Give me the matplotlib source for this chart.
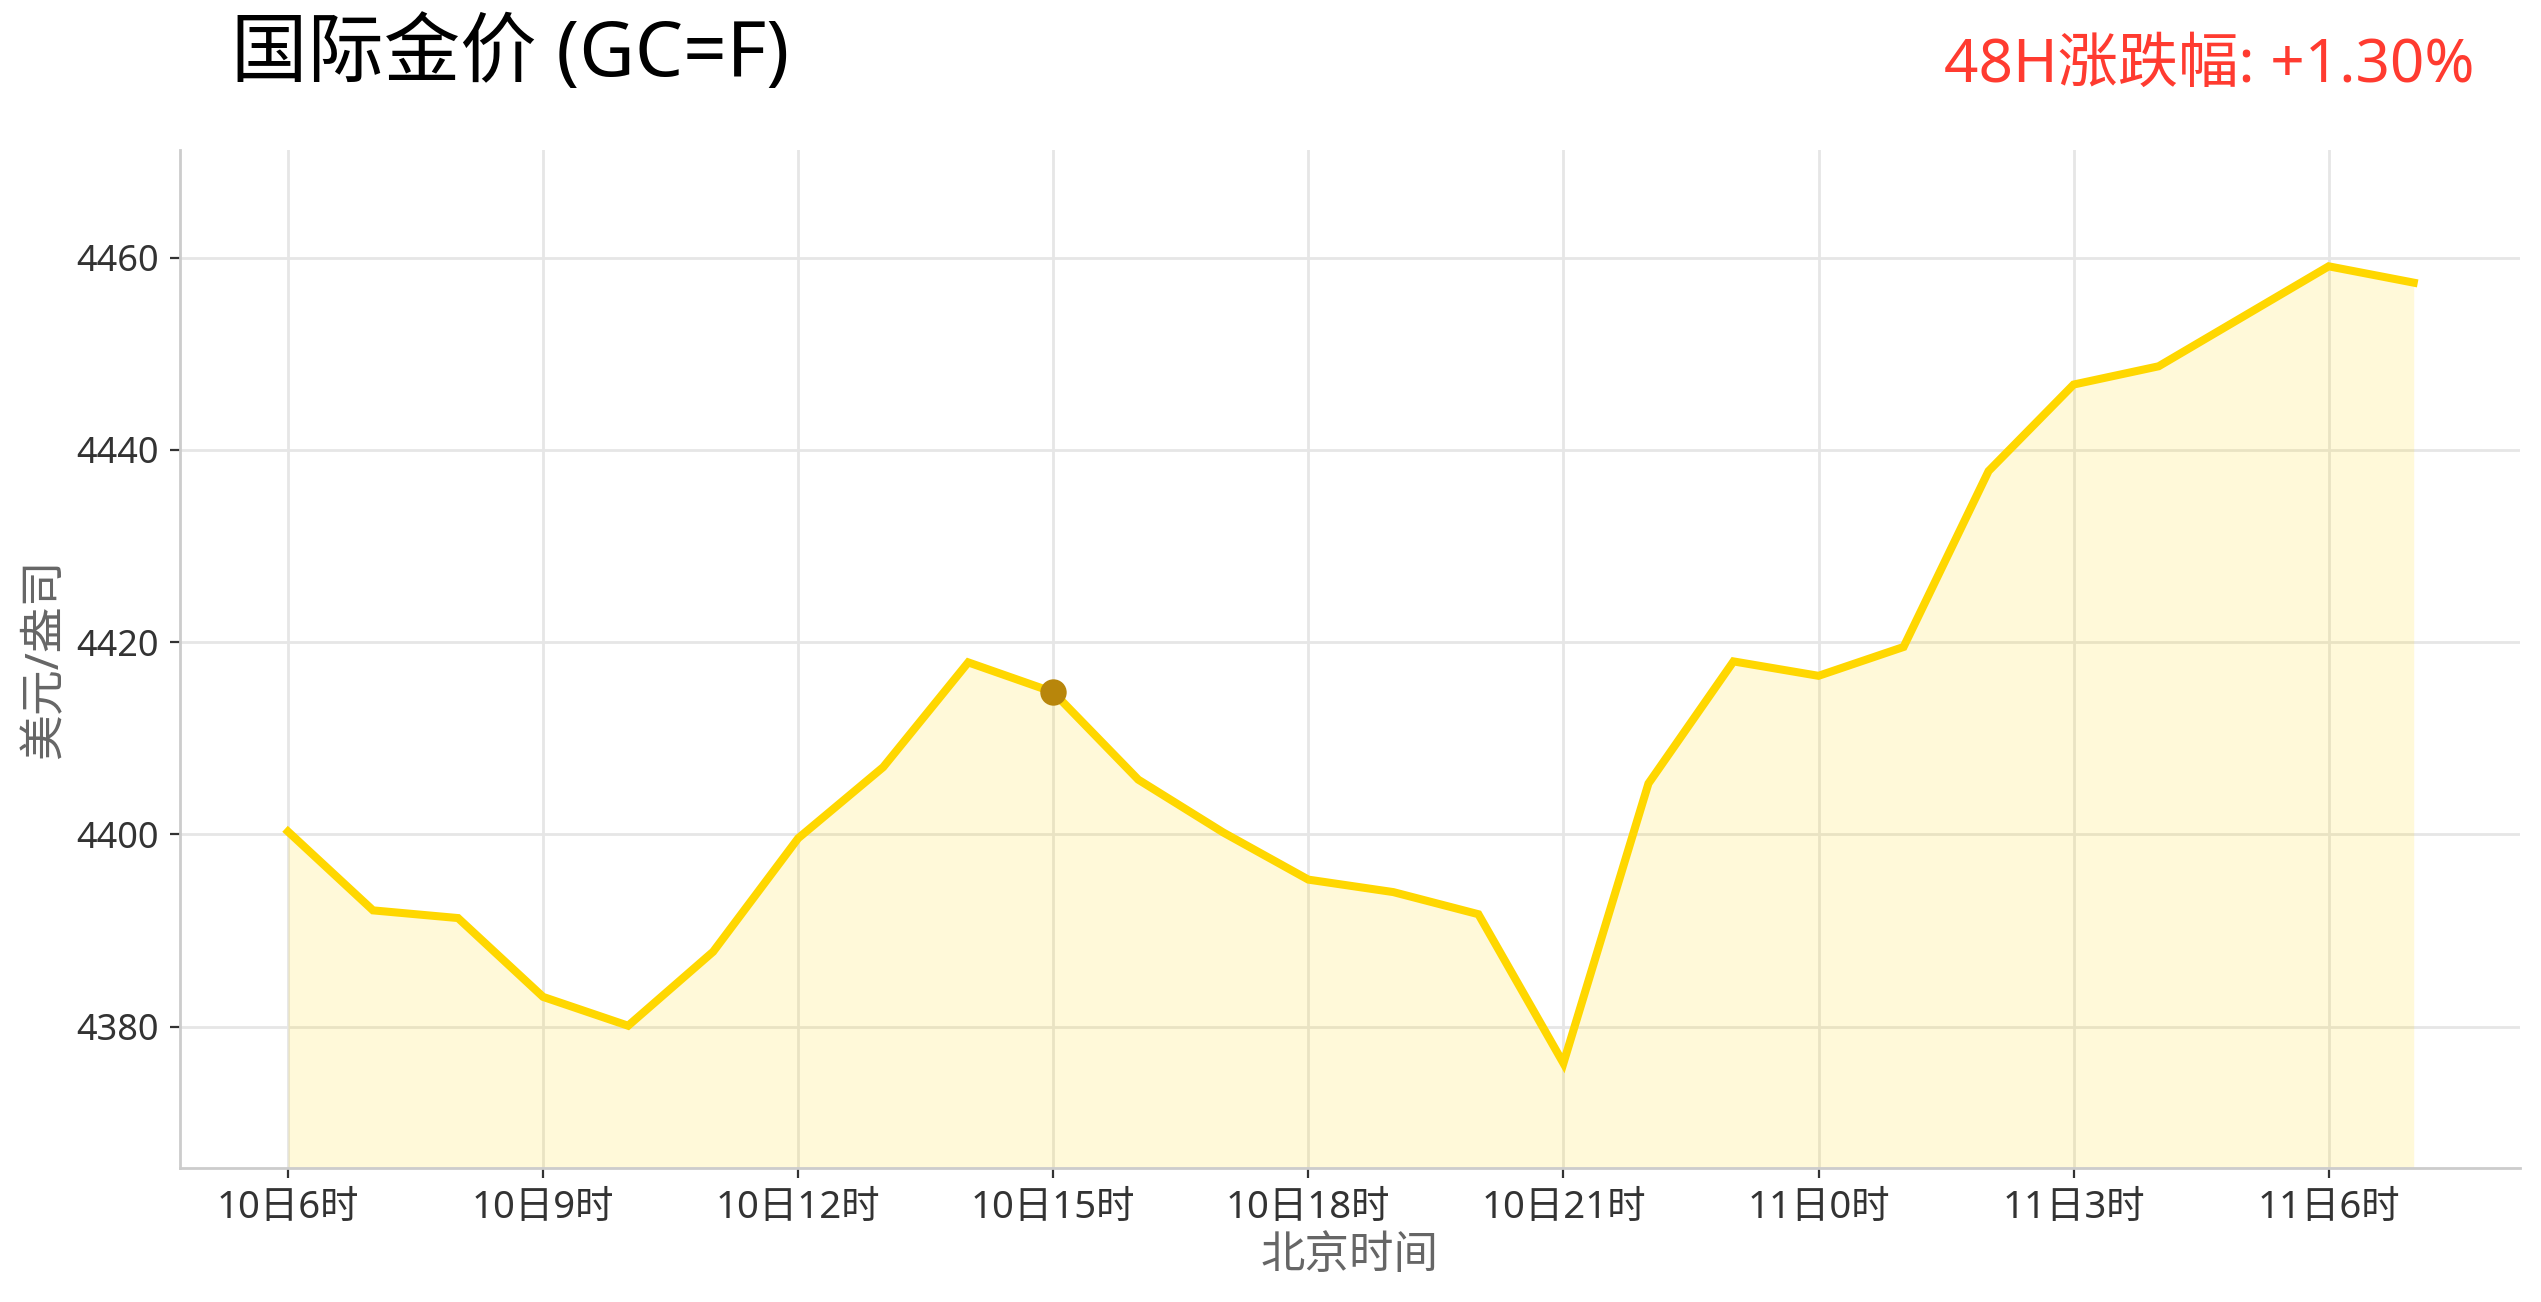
import numpy as np
import matplotlib
matplotlib.use('Agg')
import matplotlib.pyplot as plt

plt.rcParams['font.family'] = ['Noto Sans', 'Noto Sans CJK SC', 'DejaVu Sans']

# hourly gold price, 10日6时 .. 11日7时 (Beijing time)
hour_labels = ['10日6时', '10日7时', '10日8时', '10日9时', '10日10时', '10日11时',
               '10日12时', '10日13时', '10日14时', '10日15时', '10日16时', '10日17时',
               '10日18时', '10日19时', '10日20时', '10日21时', '10日22时', '10日23时',
               '11日0时', '11日1时', '11日2时', '11日3时', '11日4时', '11日5时',
               '11日6时', '11日7时']
prices = [4400.3, 4392.1, 4391.3, 4383.1, 4380.1, 4387.8,
          4399.6, 4407.0, 4417.9, 4414.8, 4405.7, 4400.2,
          4395.3, 4394.0, 4391.7, 4376.2, 4405.3, 4418.0,
          4416.5, 4419.5, 4437.8, 4446.8, 4448.7, 4453.9,
          4459.1, 4457.4]
highlight_idx = 9  # 10日15时
tick_every = 3

title = '国际金价 (GC=F)'
change_text = '48H涨跌幅: +1.30%'

DPI = 200
fig = plt.figure(figsize=(2541 / DPI, 1302 / DPI), dpi=DPI)
ax = fig.add_axes([180 / 2541, 1 - 1168 / 1302, 2340 / 2541, 1018 / 1302])

x = np.arange(len(prices))
ymin, ymax = 4365.3, 4471.2

ax.fill_between(x, prices, ymin, color='#FFD700', alpha=0.15, linewidth=0)
ax.plot(x, prices, color='#FFD700', linewidth=2.9, solid_joinstyle='miter', zorder=3)
ax.plot(x[highlight_idx], prices[highlight_idx], 'o', color='#B8860B',
        markersize=8.5, zorder=4)

ax.set_ylim(ymin, ymax)
ax.set_xlim(-1.27, len(prices) - 1 + 1.25)
ax.set_yticks([4380, 4400, 4420, 4440, 4460])
ax.set_xticks(x[::tick_every])
ax.set_xticklabels(hour_labels[::tick_every])

ax.grid(True, color='#e6e6e6', linewidth=1.0)
ax.set_axisbelow(True)
for side in ['top', 'right']:
    ax.spines[side].set_visible(False)
for side in ['left', 'bottom']:
    ax.spines[side].set_color('#cccccc')
    ax.spines[side].set_linewidth(1.0)

ax.tick_params(axis='both', colors='#333333', length=3.5, width=0.8, pad=4)
ax.tick_params(axis='x', labelsize=13.8)
ax.tick_params(axis='y', labelsize=13)
ax.set_xlabel('北京时间', fontsize=16, color='#666666', labelpad=3)
ax.set_ylabel('美元/盎司', fontsize=16.5, color='#666666', labelpad=3)

fig.text(231 / 2541, 1 - 56 / 1302, title, fontsize=27.5, color='black',
         ha='left', va='center')
fig.text(2475 / 2541, 1 - 66 / 1302, change_text, fontsize=21.7, color='#ff3b30',
         ha='right', va='center')

fig.savefig('out.png', dpi=DPI)
